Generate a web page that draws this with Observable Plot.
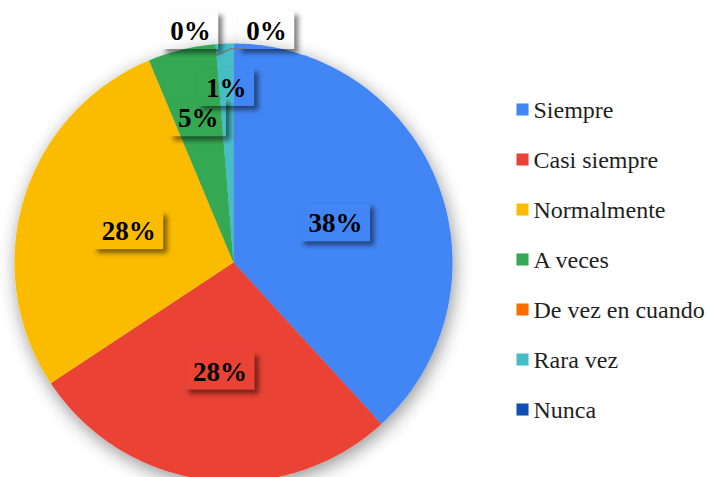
<!DOCTYPE html>
<html>
<head>
<meta charset="utf-8">
<script src="https://cdn.jsdelivr.net/npm/d3@7"></script>
<script src="https://cdn.jsdelivr.net/npm/@observablehq/plot@0.6"></script>
<style>
  html, body { margin: 0; padding: 0; background: #fff; }
  #chart { width: 707px; height: 477px; overflow: hidden; }
</style>
</head>
<body>
<div id="chart"></div>
<script>
// ---- data ----
const categories = ["Siempre", "Casi siempre", "Normalmente", "A veces", "De vez en cuando", "Rara vez", "Nunca"];
const values = [38.2, 27.5, 28.0, 5.0, 0.0, 1.3, 0.0];
const colors = ["#4285F4", "#EA4335", "#FBBC04", "#34A853", "#FF6D01", "#46BDC6", "#0F4FB0"];

// ---- layout ----
const W = 707, H = 477;
const cx = 233, cy = 262, R = 219;
const serif = "'Liberation Serif', 'Times New Roman', Times, serif";
const toUnitX = px => (px - cx) / R;
const toUnitY = py => (cy - py) / R;
const labelFont = 27;

const total = d3.sum(values);
const arcs = d3.pie().sort(null).value(d => d)(values);

// slice polygons (centre + arc vertices) in unit-circle coordinates
const slicePts = [];
arcs.forEach((a, i) => {
  const cat = categories[i];
  slicePts.push({cat, x: 0, y: 0});
  const n = Math.max(2, Math.ceil((a.endAngle - a.startAngle) / (Math.PI / 180)));
  for (let k = 0; k <= n; k++) {
    const t = a.startAngle + (a.endAngle - a.startAngle) * k / n;
    slicePts.push({cat, x: Math.sin(t), y: Math.cos(t)});
  }
});

// outside label placement for empty slices: [angle in degrees, radius fraction]
const outsidePlacement = {"De vez en cuando": [8.1, 1.07], "Nunca": [-10.5, 1.077]};
const labels = arcs.map((a, i) => {
  const cat = categories[i];
  const pct = Math.round(values[i] / total * 100);
  let ang, rr;
  if (outsidePlacement[cat]) {
    ang = outsidePlacement[cat][0] * Math.PI / 180;
    rr = outsidePlacement[cat][1];
  } else {
    ang = (a.startAngle + a.endAngle) / 2;
    rr = values[i] / total >= 0.1 ? 0.5 : (values[i] / total >= 0.03 ? 0.68 : 0.80);
  }
  const text = pct + "%";
  const wpx = labelFont * (0.5 * String(pct).length + 1.0) + 16;
  const x = rr * Math.sin(ang), y = rr * Math.cos(ang);
  return {cat, text, x, y, x1: x - wpx / 2 / R, x2: x + wpx / 2 / R, y1: y - 19 / R, y2: y + 19 / R};
});

// leader line for the right-hand 0% label
const devez = arcs[categories.indexOf("De vez en cuando")];
const rightLbl = labels.find(d => d.cat === "De vez en cuando");
const leader = [
  {x: 0.95 * Math.sin(devez.startAngle), y: 0.95 * Math.cos(devez.startAngle)},
  {x: rightLbl.x - 0.16, y: 0.977},
  {x: rightLbl.x - 0.105, y: 0.977}
];

// legend rows
const legend = categories.map((c, i) => ({c, x: toUnitX(522), tx: toUnitX(533), y: toUnitY(109 + 50 * i)}));

const svg = Plot.plot({
  width: W,
  height: H,
  margin: 0,
  style: {background: "white", overflow: "visible"},
  x: {domain: [-1, 1], range: [cx - R, cx + R], axis: null},
  y: {domain: [-1, 1], range: [cy + R, cy - R], axis: null},
  color: {type: "ordinal", domain: categories, range: colors},
  marks: [
    Plot.line(slicePts, {x: "x", y: "y", z: "cat", fill: "cat", stroke: "none"}),
    Plot.line(leader, {x: "x", y: "y", stroke: "#7a7a7a", strokeWidth: 1.3}),
    Plot.rect(labels, {x1: "x1", x2: "x2", y1: "y1", y2: "y2", fill: "white"}),
    Plot.text(labels, {x: "x", y: "y", text: "text", fontSize: labelFont, fontWeight: "bold", fontFamily: serif, fill: "black", dy: 1}),
    Plot.dot(legend, {x: "x", y: "y", fill: "c", symbol: "square", r: 6.8}),
    Plot.text(legend, {x: "tx", y: "y", text: "c", textAnchor: "start", fontSize: 24, fontFamily: serif, fill: "#1f1f1f", dy: 1})
  ]
});

const s = d3.select(svg);
const defs = s.insert("defs", ":first-child");
const f1 = defs.append("filter").attr("id", "pieShadow")
  .attr("x", "-20%").attr("y", "-20%").attr("width", "140%").attr("height", "140%");
f1.append("feDropShadow").attr("dx", 2).attr("dy", 5).attr("stdDeviation", 9)
  .attr("flood-color", "#000").attr("flood-opacity", 0.42);
const f2 = defs.append("filter").attr("id", "boxShadow")
  .attr("x", "-40%").attr("y", "-60%").attr("width", "180%").attr("height", "220%");
f2.append("feGaussianBlur").attr("in", "SourceAlpha").attr("stdDeviation", 2.5).attr("result", "b");
f2.append("feOffset").attr("in", "b").attr("dx", 4).attr("dy", 4).attr("result", "o");
f2.append("feFlood").attr("flood-color", "#000").attr("flood-opacity", 0.5).attr("result", "fl");
f2.append("feComposite").attr("in", "fl").attr("in2", "o").attr("operator", "in").attr("result", "sh");
f2.append("feComposite").attr("in", "sh").attr("in2", "SourceAlpha").attr("operator", "out");

const groups = s.selectAll(":scope > g").nodes();
d3.select(groups[0]).attr("filter", "url(#pieShadow)");
d3.select(groups[2]).selectAll("rect").attr("filter", "url(#boxShadow)");

document.getElementById("chart").appendChild(svg);
</script>
</body>
</html>
